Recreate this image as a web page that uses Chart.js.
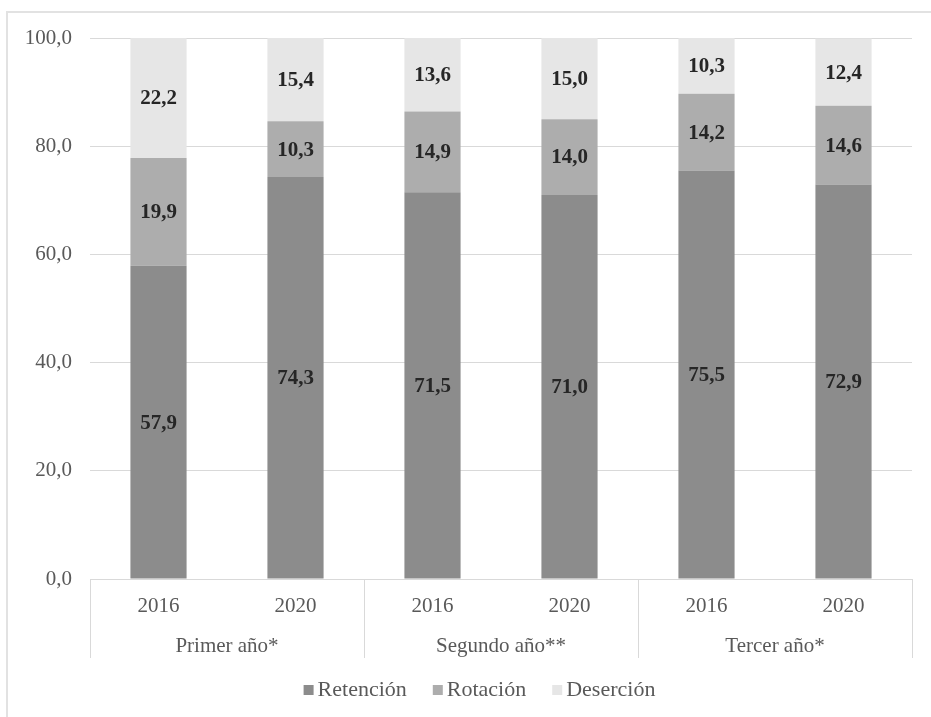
<!DOCTYPE html>
<html>
<head>
<meta charset="utf-8">
<script src="https://cdn.jsdelivr.net/npm/chart.js@4"></script>
<style>
  html, body { margin: 0; padding: 0; background: #fff; }
  #marco { position: absolute; left: 6px; top: 11px; width: 960px; height: 760px;
           border-left: 2px solid #e2e2e2; border-top: 2px solid #e2e2e2; }
  #caja { position: absolute; left: 0; top: 0; width: 931px; height: 717px; }
</style>
</head>
<body>
<div id="marco"></div>
<div id="caja"><canvas id="grafico"></canvas></div>
<script>
// Años por barra y grupo (curso) al que pertenece cada par
const anios = ["2016", "2020", "2016", "2020", "2016", "2020"];
const grupos = ["Primer año*", "Segundo año**", "Tercer año*"];

// Porcentajes por categoría
const retencion = [57.9, 74.3, 71.5, 71.0, 75.5, 72.9];
const rotacion  = [19.9, 10.3, 14.9, 14.0, 14.2, 14.6];
const desercion = [22.2, 15.4, 13.6, 15.0, 10.3, 12.4];

const fuente = "'Liberation Serif', 'Times New Roman', serif";
const gris = "#595959";

const coma = v => v.toFixed(1).replace(".", ",");

// Escribe el valor en el centro de cada segmento
const etiquetas = {
    id: "etiquetas",
    afterDatasetsDraw(chart) {
        const ctx = chart.ctx;
        ctx.save();
        ctx.font = "bold 21px " + fuente;
        ctx.fillStyle = "#262626";
        ctx.textAlign = "center";
        ctx.textBaseline = "middle";
        chart.data.datasets.forEach((ds, i) => {
            chart.getDatasetMeta(i).data.forEach((barra, j) => {
                const y = (barra.y + barra.base) / 2;
                ctx.fillText(coma(ds.data[j]), barra.x, y + 1);
            });
        });
        ctx.restore();
    }
};

// Separadores y nombres de grupo bajo el eje x
const gruposEje = {
    id: "gruposEje",
    afterDraw(chart) {
        const x = chart.scales.x;
        const ctx = chart.ctx;
        const arriba = x.top;
        const abajo = x.top + 79;
        const cortes = [x.left];
        for (let g = 1; g < grupos.length; g++) {
            const a = x.getPixelForValue(g * 2 - 1);
            const b = x.getPixelForValue(g * 2);
            cortes.push((a + b) / 2);
        }
        cortes.push(x.right);
        ctx.save();
        ctx.strokeStyle = "#d9d9d9";
        ctx.lineWidth = 1;
        cortes.forEach(c => {
            const px = Math.round(c) + 0.5;
            ctx.beginPath();
            ctx.moveTo(px, arriba);
            ctx.lineTo(px, abajo);
            ctx.stroke();
        });
        ctx.font = "21px " + fuente;
        ctx.fillStyle = gris;
        ctx.textAlign = "center";
        ctx.textBaseline = "middle";
        grupos.forEach((nombre, g) => {
            ctx.fillText(nombre, (cortes[g] + cortes[g + 1]) / 2, arriba + 67);
        });
        ctx.restore();
    }
};

// Leyenda en una fila bajo los grupos
const leyenda = {
    id: "leyenda",
    afterDraw(chart) {
        const ctx = chart.ctx;
        const caja = 10, hueco = 4, separa = 26;
        const y = chart.chartArea.bottom + 111;
        ctx.save();
        ctx.font = "22px " + fuente;
        ctx.textBaseline = "middle";
        ctx.textAlign = "left";
        const items = chart.data.datasets.map(ds => ({
            texto: ds.label, color: ds.backgroundColor, ancho: ctx.measureText(ds.label).width
        }));
        const total = items.reduce((s, it) => s + caja + hueco + it.ancho, 0) + separa * (items.length - 1);
        let cx = chart.width / 2 + 14 - total / 2;
        items.forEach(it => {
            ctx.fillStyle = it.color;
            ctx.fillRect(cx, y - caja / 2, caja, caja);
            ctx.fillStyle = gris;
            ctx.fillText(it.texto, cx + caja + hueco, y);
            cx += caja + hueco + it.ancho + separa;
        });
        ctx.restore();
    }
};

const ctx = document.getElementById("grafico").getContext("2d");

new Chart(ctx, {
    type: "bar",
    data: {
        labels: anios,
        datasets: [
            { label: "Retención", data: retencion, backgroundColor: "#8c8c8c" },
            { label: "Rotación", data: rotacion, backgroundColor: "#adadad" },
            { label: "Deserción", data: desercion, backgroundColor: "#e6e6e6" }
        ]
    },
    options: {
        responsive: true,
        maintainAspectRatio: false,
        animation: false,
        layout: { padding: { top: 38, left: 0, right: 19, bottom: 49 } },
        datasets: { bar: { categoryPercentage: 1, barPercentage: 0.41 } },
        scales: {
            x: {
                stacked: true,
                grid: { display: false },
                border: { color: "#d9d9d9" },
                ticks: { color: gris, font: { family: fuente, size: 21 }, padding: 7 },
                afterFit(s) { s.height = 89; }
            },
            y: {
                stacked: true,
                min: 0,
                max: 100,
                ticks: {
                    stepSize: 20,
                    color: gris,
                    font: { family: fuente, size: 21 },
                    padding: 18,
                    callback: v => coma(v)
                },
                grid: { color: "#d9d9d9", drawTicks: false },
                border: { display: false },
                afterFit(s) { s.width = 90; }
            }
        },
        plugins: {
            tooltip: { enabled: false },
            legend: { display: false }
        }
    },
    plugins: [etiquetas, gruposEje, leyenda]
});
</script>
</body>
</html>
